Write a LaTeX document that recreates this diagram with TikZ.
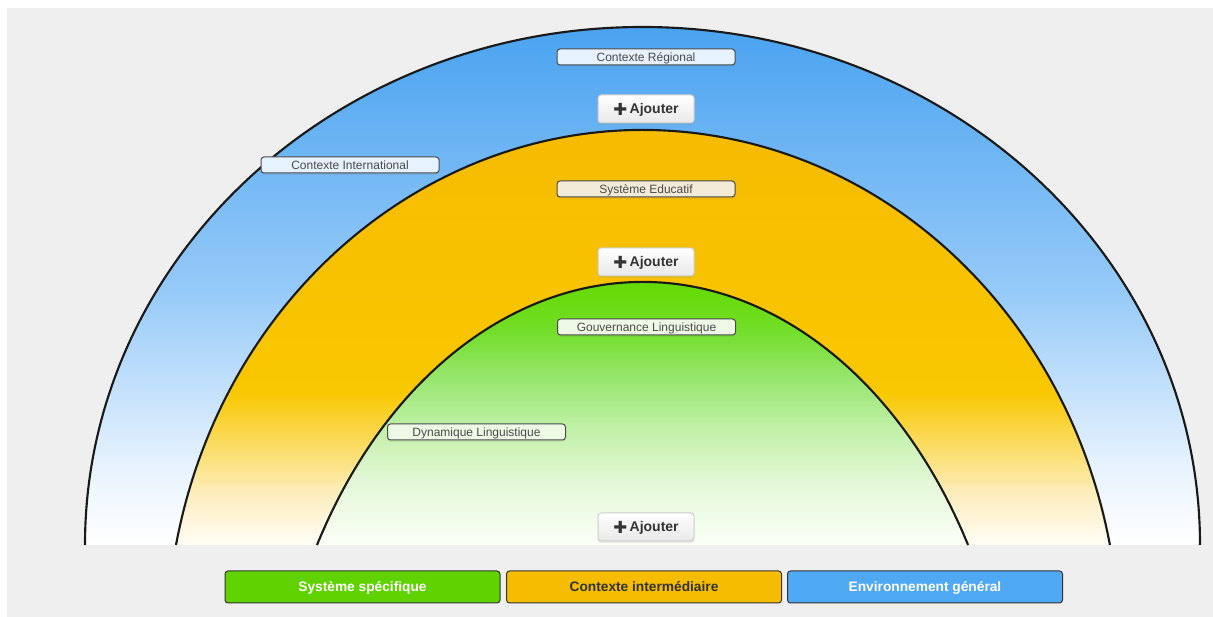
\documentclass[tikz,border=0pt]{standalone}
\usepackage{fontspec}
\setmainfont{Liberation Sans}
\newfontfamily\symfont{DejaVu Sans}
\usetikzlibrary{shadows}

\definecolor{panelgray}{HTML}{EFEFEF}
\definecolor{arcblack}{HTML}{1A1A1A}
\definecolor{labeltext}{HTML}{4A4A4A}
\definecolor{blueA}{HTML}{E8F3FE}
\definecolor{blueB}{HTML}{94C9F8}
\definecolor{blueC}{HTML}{4AA3F0}
\definecolor{orangeO}{HTML}{FFFDF6}
\definecolor{orangeA}{HTML}{FDEEC0}
\definecolor{orangeB}{HTML}{F9C800}
\definecolor{orangeC}{HTML}{F7BB00}
\definecolor{greenO}{HTML}{FBFFF8}
\definecolor{greenA}{HTML}{E2F8D6}
\definecolor{greenB}{HTML}{C2F0A8}
\definecolor{greenC}{HTML}{98E670}
\definecolor{greenD}{HTML}{72DE28}
\definecolor{greenE}{HTML}{64DA00}
\definecolor{tagblue}{HTML}{E6F2FF}
\definecolor{tagbeige}{HTML}{F3EAD8}
\definecolor{taggreen}{HTML}{EEFAE6}
\definecolor{legendgreen}{HTML}{60D200}
\definecolor{legendorange}{HTML}{F5BC00}
\definecolor{legendblue}{HTML}{4FA8F2}

\pgfdeclareverticalshading{blueband}{100bp}{color(0bp)=(white); color(25bp)=(white);
  color(32.5bp)=(blueA); color(50bp)=(blueB); color(75bp)=(blueC); color(100bp)=(blueC)}
\pgfdeclareverticalshading{orangeband}{100bp}{color(0bp)=(orangeO); color(25bp)=(orangeO);
  color(31bp)=(orangeA); color(43.5bp)=(orangeB); color(75bp)=(orangeC); color(100bp)=(orangeC)}
\pgfdeclareverticalshading{greenband}{100bp}{color(0bp)=(greenO); color(25bp)=(greenO);
  color(37.5bp)=(greenA); color(47bp)=(greenB); color(56.5bp)=(greenC); color(66bp)=(greenD);
  color(75bp)=(greenE); color(100bp)=(greenE)}

\newcommand{\plusicon}{\raisebox{-0.9pt}{\symfont\fontsize{12.5}{12}\selectfont ✚}}

\begin{document}
\begin{tikzpicture}[x=0.75pt,y=0.75pt,
    arcline/.style={draw=arcblack,line width=1.6pt},
    tagbox/.style={draw=labeltext,line width=0.75pt,rounded corners=2.25pt,
      minimum width=133.5pt,minimum height=12pt,inner sep=0pt,text=labeltext,
      text height=6.45pt,text depth=0pt,font=\fontsize{9}{10}\selectfont,
      drop shadow={opacity=0.15,shadow xshift=0pt,shadow yshift=-1.5pt}},
    addbtn/.style={draw=black!20,line width=0.75pt,rounded corners=2.25pt,
      top color=white,bottom color=black!9,minimum width=72pt,minimum height=21pt,
      inner sep=0pt,text=black!80,text height=7.5pt,text depth=0pt,
      font=\bfseries\fontsize{10.5}{12}\selectfont,
      drop shadow={opacity=0.15,shadow xshift=0pt,shadow yshift=-1.5pt}},
    legendbox/.style={draw=black!80,line width=0.75pt,rounded corners=2.25pt,
      minimum width=206.25pt,minimum height=24pt,inner sep=0pt,
      text height=7.4pt,text depth=0pt,font=\bfseries\fontsize{10.3}{12}\selectfont}]
  \useasboundingbox (0,0) rectangle (1213,617);
  % page and panel
  \fill[white] (0,0) rectangle (1213,617);
  \fill[panelgray] (7,0) rectangle (1213,609);

  % outer band: environnement
  \path[shading=blueband] (85,72) arc[start angle=180,end angle=90,x radius=557.5,y radius=518]
    arc[start angle=90,end angle=0,x radius=557.5,y radius=518] -- cycle;
  \draw[arcline] (85,72) arc[start angle=180,end angle=0,x radius=557.5,y radius=518];

  % middle band: contexte
  \path[shading=orangeband] (176,72) arc[start angle=168.53,end angle=90,x radius=476.5,y radius=518]
    arc[start angle=90,end angle=11.47,x radius=476.5,y radius=518] -- cycle;
  \draw[arcline] (176,72) arc[start angle=168.53,end angle=11.47,x radius=476.5,y radius=518];

  % inner band: systeme
  \path[shading=greenband] (317,72) arc[start angle=150.51,end angle=90,x radius=374,y radius=518]
    arc[start angle=90,end angle=29.49,x radius=374,y radius=518] -- cycle;
  \draw[arcline] (317,72) arc[start angle=150.51,end angle=29.49,x radius=374,y radius=518];

  % tags
  \node[tagbox,fill=tagblue] (regional) at (646,560) {Contexte Régional};
  \node[tagbox,fill=tagblue] (international) at (350,452) {Contexte International};
  \node[tagbox,fill=tagbeige] (educatif) at (646,428) {Système Educatif};
  \node[tagbox,fill=taggreen] (gouvernance) at (646.5,290) {Gouvernance Linguistique};
  \node[tagbox,fill=taggreen] (dynamique) at (476.5,185) {Dynamique Linguistique};

  % add buttons
  \node[addbtn] (addouter) at (646,508) {\plusicon\,Ajouter};
  \node[addbtn] (addmiddle) at (646,355) {\plusicon\,Ajouter};
  \node[addbtn] (addinner) at (646,90) {\plusicon\,Ajouter};

  % legend
  \node[legendbox,fill=legendgreen,text=white] (legsys) at (362.5,30) {Système spécifique};
  \node[legendbox,fill=legendorange,text=black!80] (legctx) at (644,30) {Contexte intermédiaire};
  \node[legendbox,fill=legendblue,text=white] (legenv) at (925,30) {Environnement général};
\end{tikzpicture}
\end{document}
